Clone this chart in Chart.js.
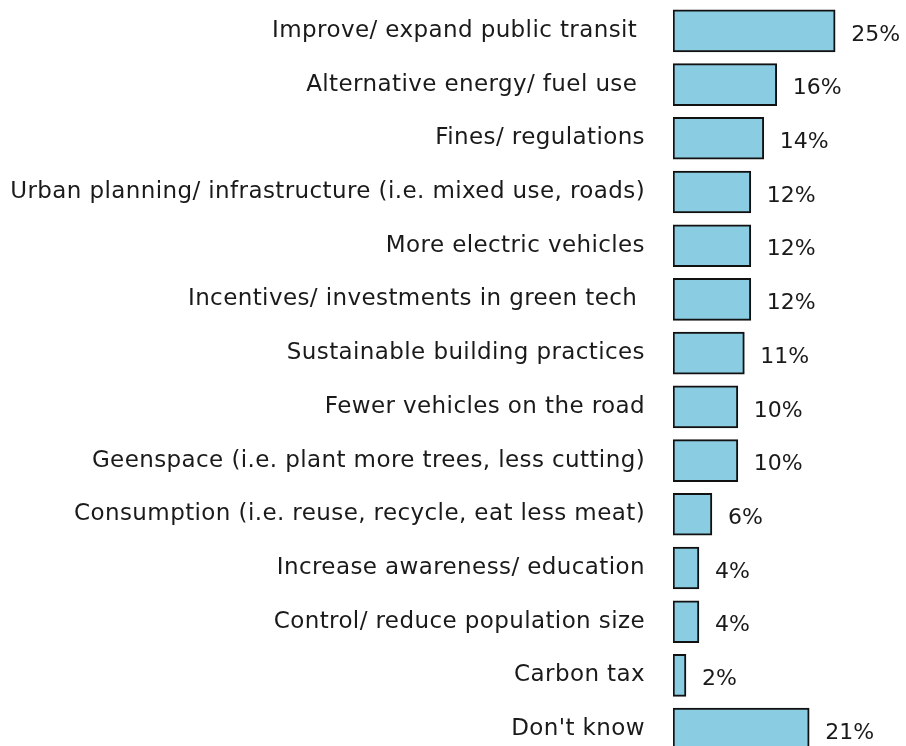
<!DOCTYPE html>
<html>
<head>
<meta charset="utf-8">
<script src="https://cdn.jsdelivr.net/npm/chart.js@4.4.0/dist/chart.umd.min.js"></script>
<style>
    html, body { margin: 0; padding: 0; background: #fff; overflow: hidden; }
    #wrap { position: relative; width: 906px; height: 756px; }
</style>
</head>
<body>
<div id="wrap"><canvas id="actionsChart"></canvas></div>
<script>
const categories = [
    'Improve/ expand public transit ',
    'Alternative energy/ fuel use ',
    'Fines/ regulations',
    'Urban planning/ infrastructure (i.e. mixed use, roads)',
    'More electric vehicles',
    'Incentives/ investments in green tech ',
    'Sustainable building practices',
    'Fewer vehicles on the road',
    'Geenspace (i.e. plant more trees, less cutting)',
    'Consumption (i.e. reuse, recycle, eat less meat)',
    'Increase awareness/ education',
    'Control/ reduce population size',
    'Carbon tax',
    "Don't know"
];
const percentages = [25, 16, 14, 12, 12, 12, 11, 10, 10, 6, 4, 4, 2, 21];

const fontFamily = "'DejaVu Sans', sans-serif";

// widen the axis labels a bit (the original font is wider than DejaVu)
const labelSpacing = {
    id: 'labelSpacing',
    beforeDraw(chart) {
        chart.ctx.letterSpacing = '0.4px';
    }
};

// draws the "25%" style labels to the right of each bar
const valueLabels = {
    id: 'valueLabels',
    afterDatasetsDraw(chart) {
        const ctx = chart.ctx;
        const meta = chart.getDatasetMeta(0);
        ctx.save();
        ctx.letterSpacing = '0px';
        ctx.font = '22px ' + fontFamily;
        ctx.fillStyle = '#1a1a1a';
        ctx.textAlign = 'left';
        ctx.textBaseline = 'middle';
        meta.data.forEach(function (bar, i) {
            ctx.fillText(percentages[i] + '%', bar.x + 16, bar.y + 4);
        });
        ctx.restore();
    }
};

const ctx = document.getElementById('actionsChart').getContext('2d');
new Chart(ctx, {
    type: 'bar',
    data: {
        labels: categories,
        datasets: [{
            data: percentages,
            backgroundColor: '#8acde3',
            borderColor: '#111111',
            borderWidth: 2,
            borderSkipped: false,
            barThickness: 42
        }]
    },
    options: {
        indexAxis: 'y',
        responsive: true,
        maintainAspectRatio: false,
        animation: false,
        layout: {
            padding: { top: 4, right: 6, bottom: 0, left: 0 }
        },
        plugins: {
            legend: { display: false },
            tooltip: { enabled: false }
        },
        scales: {
            x: {
                display: false,
                min: 0,
                max: 35,
                grid: { display: false }
            },
            y: {
                grid: { display: false, drawTicks: false },
                border: { display: false },
                ticks: {
                    padding: 28,
                    color: '#1a1a1a',
                    font: { family: fontFamily, size: 23 }
                },
                afterFit(scale) {
                    scale.width = 673;
                    scale.paddingTop = 0;
                    scale.paddingBottom = 0;
                }
            }
        }
    },
    plugins: [labelSpacing, valueLabels]
});
</script>
</body>
</html>
